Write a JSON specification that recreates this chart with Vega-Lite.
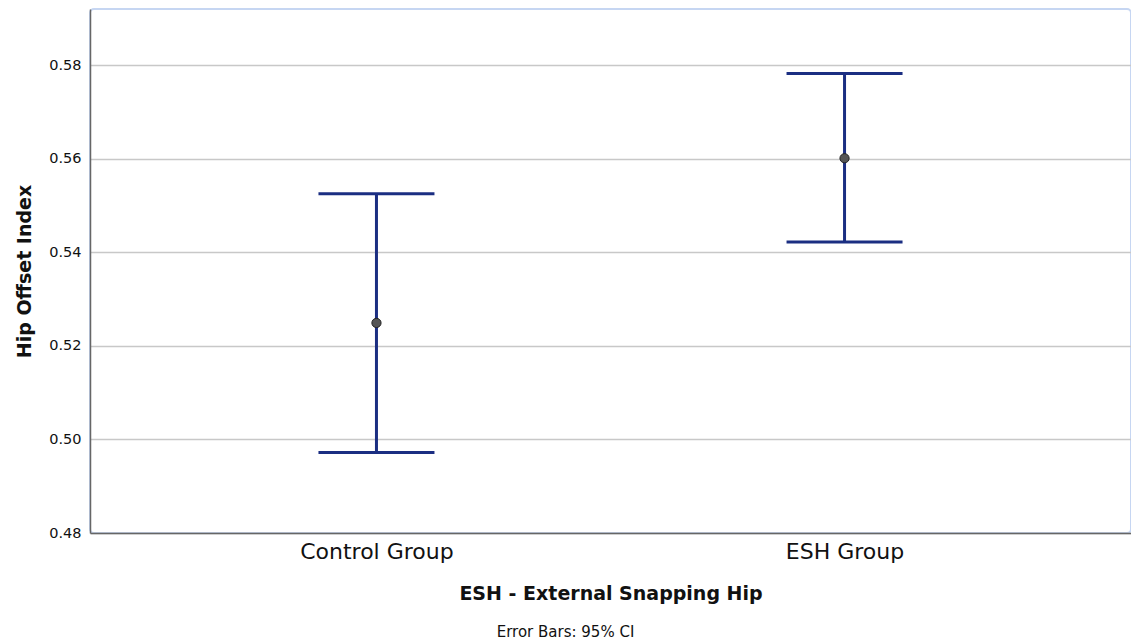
{
  "$schema": "https://vega.github.io/schema/vega-lite/v6.json",
  "autosize": {"type": "none"},
  "width": 1041,
  "height": 524,
  "padding": {"left": 90, "top": 9, "right": 0, "bottom": 111},
  "background": "white",
  "config": {
    "font": "DejaVu Sans",
    "view": {"stroke": "#c6d6f2", "strokeWidth": 2, "cornerRadius": 4}
  },
  "title": {
    "text": "Error Bars: 95% CI",
    "orient": "bottom",
    "anchor": "middle",
    "fontSize": 15,
    "fontWeight": "normal",
    "font": "DejaVu Sans",
    "color": "#111",
    "dx": -45,
    "offset": 22
  },
  "data": {
    "values": [
      {"group": "Control Group", "mean": 0.5249, "lower": 0.4972, "upper": 0.5525},
      {"group": "ESH Group", "mean": 0.5601, "lower": 0.5422, "upper": 0.5782}
    ]
  },
  "encoding": {
    "x": {
      "field": "group",
      "type": "nominal",
      "sort": null,
      "scale": {"type": "point", "padding": 0.612},
      "axis": {
        "title": "ESH - External Snapping Hip",
        "titleFontSize": 19,
        "titleFontWeight": "bold",
        "titleColor": "#111",
        "titlePadding": 22,
        "labelFontSize": 22,
        "labelColor": "#111",
        "labelAngle": 0,
        "labelPadding": 8,
        "ticks": false,
        "grid": false,
        "domainColor": "#666",
        "domainWidth": 1.5
      }
    }
  },
  "layer": [
    {
      "mark": {"type": "rule", "color": "#1b2e82", "strokeWidth": 3},
      "encoding": {
        "y": {
          "field": "lower",
          "type": "quantitative",
          "scale": {"domain": [0.48, 0.592], "nice": false, "zero": false},
          "axis": {
            "title": "Hip Offset Index",
            "titleFontSize": 19,
            "titleFontWeight": "bold",
            "titleColor": "#111",
            "titlePadding": 14,
            "labelFontSize": 14.5,
            "labelColor": "#111",
            "labelPadding": 9,
            "format": ".2f",
            "values": [0.48, 0.5, 0.52, 0.54, 0.56, 0.58],
            "ticks": false,
            "grid": true,
            "gridColor": "#c8c8c8",
            "gridWidth": 1.5,
            "domainColor": "#666",
            "domainWidth": 1.5
          }
        },
        "y2": {"field": "upper"}
      }
    },
    {
      "mark": {"type": "tick", "orient": "horizontal", "color": "#1b2e82", "size": 116, "thickness": 3, "opacity": 1},
      "encoding": {"y": {"field": "lower", "type": "quantitative"}}
    },
    {
      "mark": {"type": "tick", "orient": "horizontal", "color": "#1b2e82", "size": 116, "thickness": 3, "opacity": 1},
      "encoding": {"y": {"field": "upper", "type": "quantitative"}}
    },
    {
      "mark": {"type": "point", "shape": "circle", "filled": true, "fill": "#555", "stroke": "#222", "strokeWidth": 1, "size": 85, "opacity": 1},
      "encoding": {"y": {"field": "mean", "type": "quantitative"}}
    }
  ]
}
